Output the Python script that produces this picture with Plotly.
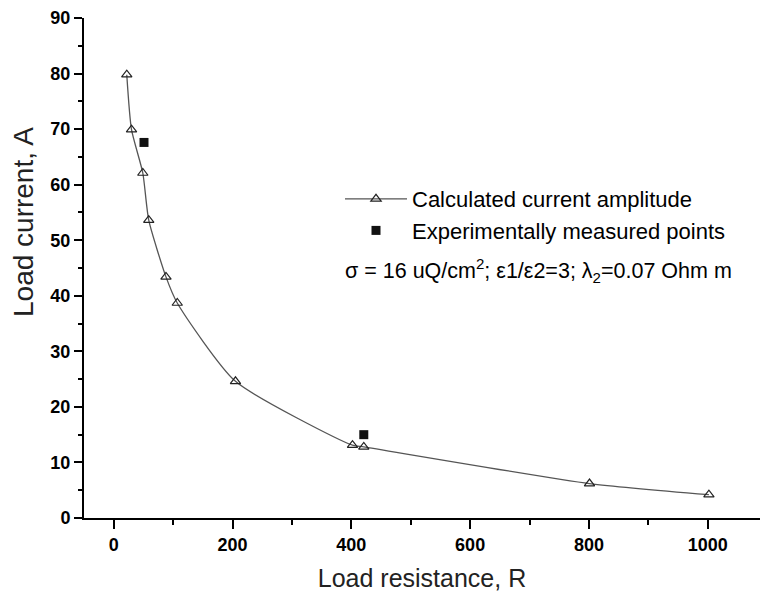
import plotly.graph_objects as go

# Calculated current amplitude (triangles)
calc_R = [22, 30, 49, 59, 88, 107, 205, 402, 421, 801, 1002]
calc_I = [79.8, 69.9, 62.1, 53.6, 43.4, 38.7, 24.6, 13.1, 12.8, 6.2, 4.2]

# Experimentally measured points (squares)
exp_R = [51, 421]
exp_I = [67.6, 15.0]

x_ticks = [0, 200, 400, 600, 800, 1000]
y_ticks = [0, 10, 20, 30, 40, 50, 60, 70, 80, 90]

FONT = "Liberation Sans, Arial, sans-serif"
L, R, T, B = 84, 4, 18, 76
PW, PH = 764 - L - R, 594 - T - B

def px(xp):
    return (xp - L) / PW

def py(yp):
    return (594 - B - yp) / PH

fig = go.Figure()
fig.add_trace(go.Scatter(
    x=calc_R, y=calc_I, mode="lines+markers",
    name="Calculated current amplitude",
    line=dict(color="#555555", width=1.3, shape="spline", smoothing=0.6),
    marker=dict(symbol="triangle-up-open", size=9, color="#222222",
                line=dict(width=1.2, color="#222222")),
))
fig.add_trace(go.Scatter(
    x=exp_R, y=exp_I, mode="markers",
    name="Experimentally measured points",
    marker=dict(symbol="square", size=9, color="#111111"),
))

fig.add_annotation(
    xref="paper", yref="paper", x=px(343), y=py(270),
    xanchor="left", yanchor="middle", showarrow=False,
    text="σ = 16 uQ/cm<sup>2</sup>; ε1/ε2=3; λ<sub>2</sub>=0.07 Ohm m",
    font=dict(family=FONT, size=21.5, color="black"),
)
fig.add_annotation(
    xref="paper", yref="paper", x=px(23), y=py(222),
    xanchor="center", yanchor="middle", showarrow=False, textangle=-90,
    text="Load current, A",
    font=dict(family=FONT, size=28, color="#222222"),
)

fig.update_layout(
    width=764, height=594,
    margin=dict(l=L, r=R, t=T, b=B),
    paper_bgcolor="white", plot_bgcolor="white",
    font=dict(family=FONT, color="black"),
    showlegend=True,
    legend=dict(
        x=px(340), y=py(178), xanchor="left", yanchor="top",
        bgcolor="rgba(0,0,0,0)", borderwidth=0,
        font=dict(family=FONT, size=22, color="black"),
        itemwidth=62, tracegroupgap=0,
    ),
    xaxis=dict(
        range=[-50, 1088], tickvals=x_ticks, ticktext=[str(v) for v in x_ticks],
        showgrid=False, zeroline=False, showline=True, linecolor="black", linewidth=2,
        ticks="outside", ticklen=9, tickwidth=2, tickcolor="black",
        minor=dict(dtick=100, tick0=0, ticks="outside", ticklen=5, tickwidth=2, tickcolor="black"),
        tickfont=dict(family=FONT, size=18, color="black", weight="bold"),
        title=dict(text="Load resistance, R", font=dict(family=FONT, size=25, color="#222222"), standoff=16),
    ),
    yaxis=dict(
        range=[0, 90], tickvals=y_ticks, ticktext=[str(v) for v in y_ticks],
        showgrid=False, zeroline=False, showline=True, linecolor="black", linewidth=2,
        ticks="outside", ticklen=8, tickwidth=2, tickcolor="black",
        minor=dict(dtick=5, tick0=0, ticks="outside", ticklen=4, tickwidth=2, tickcolor="black"),
        tickfont=dict(family=FONT, size=18, color="black", weight="bold"),
    ),
)

fig.write_html("out.html")
